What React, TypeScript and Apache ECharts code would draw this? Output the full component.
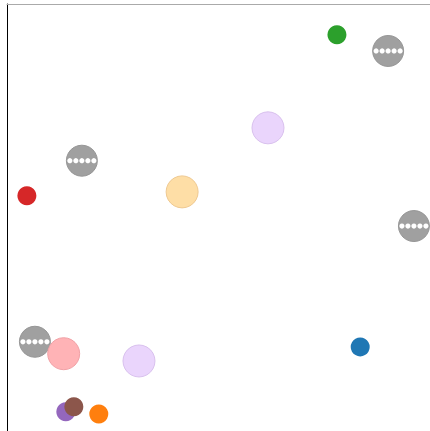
import React, { useEffect, useRef } from "react";
import * as echarts from "echarts";

// Colored nodes: [x, y]
const smallNames = ["green", "red", "blue", "purple", "brown", "orange"];
const smallX = [78.0, 4.7, 83.5, 13.9, 15.8, 21.7];
const smallY = [92.8, 55.1, 19.7, 4.5, 5.7, 4.0];
const smallColors = ["#2ca02c", "#d62728", "#1f77b4", "#9467bd", "#8c564b", "#ff7f0e"];

const largeNames = ["lavenderTop", "peach", "pink", "lavenderBottom"];
const largeX = [61.7, 41.4, 13.4, 31.2];
const largeY = [71.0, 56.0, 18.1, 16.4];
const largeFill = ["#ead5fc", "#fedea6", "#ffb3b6", "#ead5fc"];
const largeBorder = ["#d9c1ee", "#efc991", "#f1a1a6", "#d9c1ee"];

const grayX = [90.1, 17.7, 96.2, 6.6];
const grayY = [89.0, 63.3, 48.0, 20.9];

export default function App() {
  const ref = useRef<HTMLDivElement>(null);
  useEffect(() => {
    if (!ref.current) return;
    const chart = echarts.init(ref.current, undefined, { renderer: "svg" });
    const grayData = grayX.map((x, i) => [x, grayY[i]]);
    const option: any = {
      animation: false,
      grid: { left: 7, top: 4, right: 0, bottom: 0 },
      xAxis: {
        type: "value",
        min: 0,
        max: 100,
        position: "top",
        axisLine: { show: true, onZero: false, lineStyle: { color: "#aaaaaa", width: 1 } },
        axisTick: { show: false },
        axisLabel: { show: false },
        splitLine: { show: false },
      },
      yAxis: {
        type: "value",
        min: 0,
        max: 100,
        axisLine: { show: true, onZero: false, lineStyle: { color: "#000000", width: 1 } },
        axisTick: { show: false },
        axisLabel: { show: false },
        splitLine: { show: false },
      },
      series: [
        {
          type: "custom",
          name: "gray",
          data: grayData,
          clip: false,
          renderItem: (params: any, api: any) => {
            const p = api.coord([api.value(0), api.value(1)]);
            const children: any[] = [
              {
                type: "circle",
                shape: { cx: p[0], cy: p[1], r: 15.5 },
                style: { fill: "#a0a0a0", stroke: "#969696", lineWidth: 1 },
              },
            ];
            [-12, -6, 0, 6, 12].forEach((dx) => {
              children.push({
                type: "circle",
                shape: { cx: p[0] + dx, cy: p[1], r: 2.6 },
                style: { fill: "#ffffff" },
              });
            });
            return { type: "group", children };
          },
        },
        {
          type: "scatter",
          name: "large",
          symbolSize: 32,
          data: largeX.map((x, i) => ({
            name: largeNames[i],
            value: [x, largeY[i]],
            itemStyle: { color: largeFill[i], borderColor: largeBorder[i], borderWidth: 1, opacity: 1 },
          })),
        },
        {
          type: "scatter",
          name: "small",
          symbolSize: 19,
          data: smallX.map((x, i) => ({
            name: smallNames[i],
            value: [x, smallY[i]],
            itemStyle: { color: smallColors[i], opacity: 1 },
          })),
        },
      ],
    };
    chart.setOption(option);
    return () => chart.dispose();
  }, []);
  return (
    <div
      ref={ref}
      style={{ position: "absolute", left: 0, top: 0, width: 430, height: 431 }}
    />
  );
}
